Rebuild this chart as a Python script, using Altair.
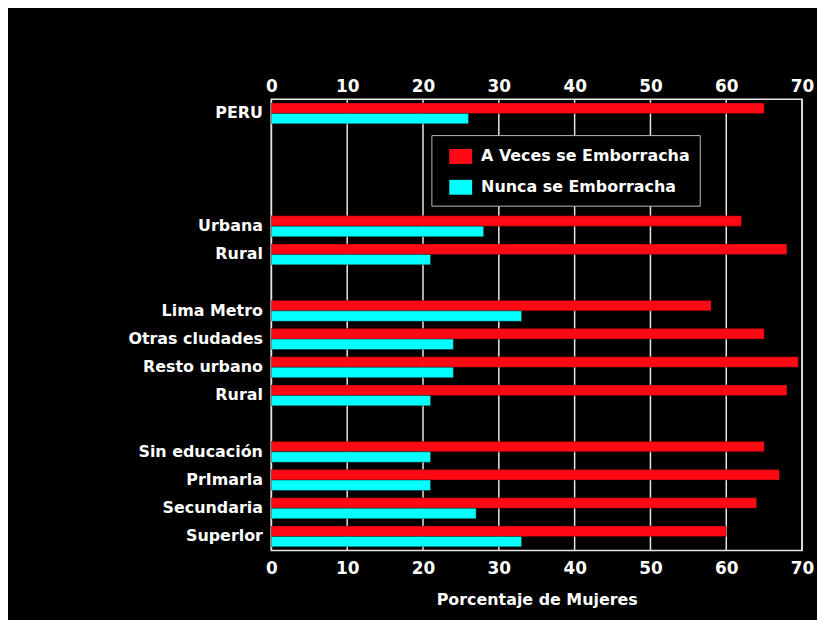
import json
import altair as alt
import pandas as pd

# ---- data ----
row_labels = ["PERU", "", "", "", "Urbana", "Rural", "", "Lima Metro",
              "Otras cludades", "Resto urbano", "Rural", "", "Sin educación",
              "PrImarla", "Secundaria", "Superlor"]
a_veces = [65, None, None, None, 62, 68, None, 58, 65, 69.5, 68, None, 65, 67, 64, 60]
nunca = [26, None, None, None, 28, 21, None, 33, 24, 24, 21, None, 21, 21, 27, 33]
series_names = ["A Veces se Emborracha", "Nunca se Emborracha"]
series_colors = ["#ff0a14", "#00ffff"]
x_ticks = [0, 10, 20, 30, 40, 50, 60, 70]

recs = []
for i, (a, n) in enumerate(zip(a_veces, nunca)):
    if a is not None:
        recs.append({"row": i, "serie": series_names[0], "value": a})
    if n is not None:
        recs.append({"row": i, "serie": series_names[1], "value": n})
df = pd.DataFrame(recs)
grid_df = pd.DataFrame({"tick": x_ticks})

FONT = "DejaVu Sans"
label_expr = "[" + ",".join(json.dumps(s) for s in row_labels) + "][datum.value]"
xscale = alt.Scale(domain=[0, 70], nice=False, zero=True)

grid = alt.Chart(grid_df).mark_rule(color="#e6e6e6", strokeWidth=1.5).encode(
    x=alt.X("tick:Q", scale=xscale,
            axis=alt.Axis(orient="top", values=x_ticks, title=None, grid=False,
                          ticks=False, domain=False, labelColor="white",
                          labelFont=FONT, labelFontSize=17, labelFontWeight="bold",
                          labelPadding=4, labelFlush=False))
)

bars = alt.Chart(df).mark_bar(stroke="#330000", strokeWidth=0.4).encode(
    x=alt.X("value:Q", scale=xscale,
            axis=alt.Axis(orient="bottom", values=x_ticks, title="Porcentaje de Mujeres",
                          grid=False, ticks=False, domain=False, labelColor="white",
                          labelFont=FONT, labelFontSize=17, labelFontWeight="bold",
                          labelPadding=10, labelFlush=False,
                          titleColor="white", titleFont=FONT,
                          titleFontSize=16, titleFontWeight="bold", titlePadding=15)),
    y=alt.Y("row:O", scale=alt.Scale(domain=list(range(16)), paddingInner=0.26,
                                     paddingOuter=0.13),
            axis=alt.Axis(title=None, ticks=False, domain=False, labelExpr=label_expr,
                          labelColor="white", labelFont=FONT, labelFontSize=16,
                          labelFontWeight="bold", labelPadding=9, labelLimit=400)),
    yOffset=alt.YOffset("serie:N", sort=series_names),
    color=alt.Color("serie:N",
                    scale=alt.Scale(domain=series_names, range=series_colors),
                    legend=alt.Legend(title=None, orient="none", legendX=161, legendY=36,
                                      fillColor="black", strokeColor="#bbbbbb",
                                      padding=10, rowPadding=11, symbolOffset=8,
                                      symbolType="M-1,-0.652L1,-0.652L1,0.652L-1,0.652Z",
                                      symbolSize=529, symbolStrokeWidth=0,
                                      symbolOpacity=1,
                                      labelColor="white", labelFont=FONT,
                                      labelFontSize=16, labelFontWeight="bold",
                                      labelOffset=9, labelLimit=400)),
)

chart = alt.layer(grid, bars).resolve_axis(x="independent").properties(
    width=534, height=454,
    background="black",
    padding={"left": 265, "top": 90, "right": 15, "bottom": 68},
    autosize=alt.AutoSizeParams(type="none"),
).configure_view(stroke="#e6e6e6", strokeWidth=1.5)

chart.save("out.html", embed_options={"renderer": "svg", "actions": False})
